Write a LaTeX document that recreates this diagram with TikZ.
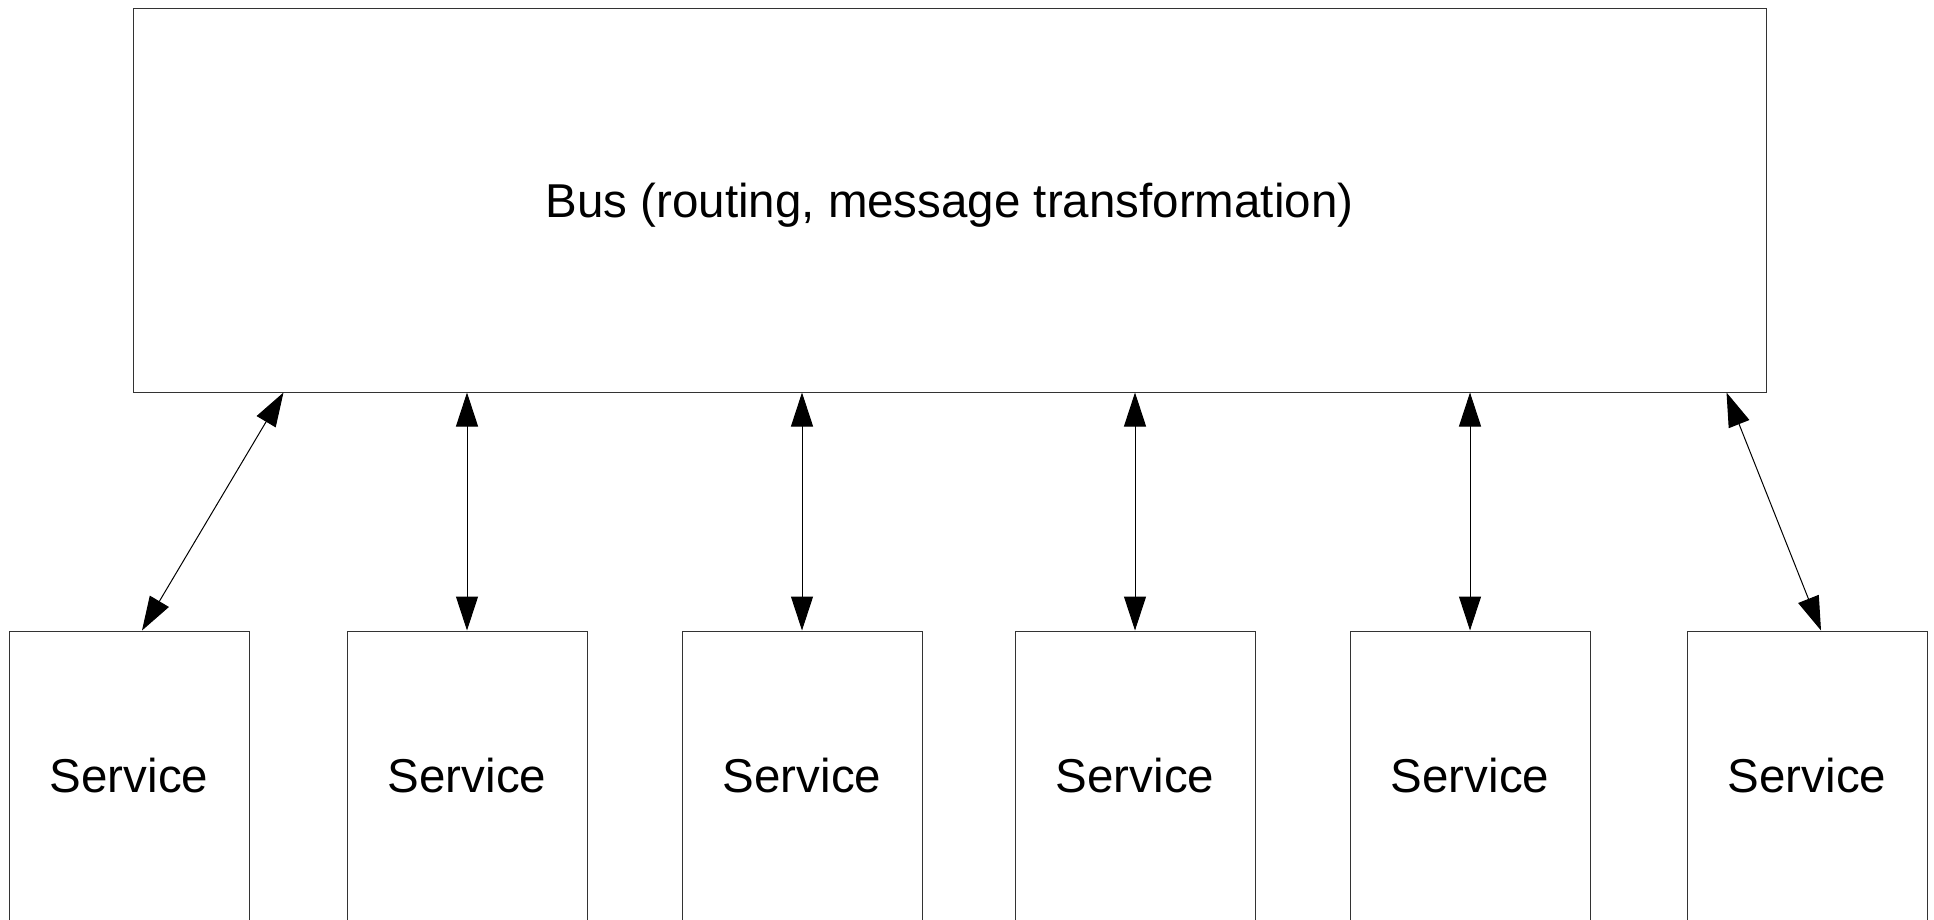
\documentclass[tikz,border=0pt]{standalone}
\usepackage{fontspec}
\setmainfont{Liberation Sans}
\usetikzlibrary{arrows.meta}

\begin{document}
\begin{tikzpicture}[x=1pt,y=1pt,
      busbox/.style ={rectangle, draw=black!80, line width=1pt, inner sep=0pt, text depth=0pt,
        minimum width=1633pt, minimum height=384pt, font=\fontsize{47.5}{57}\selectfont},
      servicebox/.style ={rectangle, draw=black!80, line width=1pt, inner sep=0pt,
        minimum width=240pt, minimum height=290pt, font=\fontsize{47.5}{57}\selectfont},
      link/.style ={{Triangle[length=34pt,width=22pt]}-{Triangle[length=34pt,width=22pt]}, line width=1pt}]
   \useasboundingbox (0,0) rectangle (1934,-919);
   \node[busbox] (bus) at (949.5,-200) {Bus (routing, message transformation)};
   \node[servicebox] (s1) at (129,-776)  {Service};
   \node[servicebox] (s2) at (467,-776)  {Service};
   \node[servicebox] (s3) at (802,-776)  {Service};
   \node[servicebox] (s4) at (1135,-776) {Service};
   \node[servicebox] (s5) at (1470,-776) {Service};
   \node[servicebox] (s6) at (1807,-776) {Service};
   \draw[link] ([xshift=13pt]s1.north) to ([xshift=151pt]bus.south west);
   \draw[link] (s2.north) to (s2.north |- bus.south);
   \draw[link] (s3.north) to (s3.north |- bus.south);
   \draw[link] (s4.north) to (s4.north |- bus.south);
   \draw[link] (s5.north) to (s5.north |- bus.south);
   \draw[link] ([xshift=14pt]s6.north) to ([xshift=-40pt]bus.south east);
 \end{tikzpicture}
\end{document}
